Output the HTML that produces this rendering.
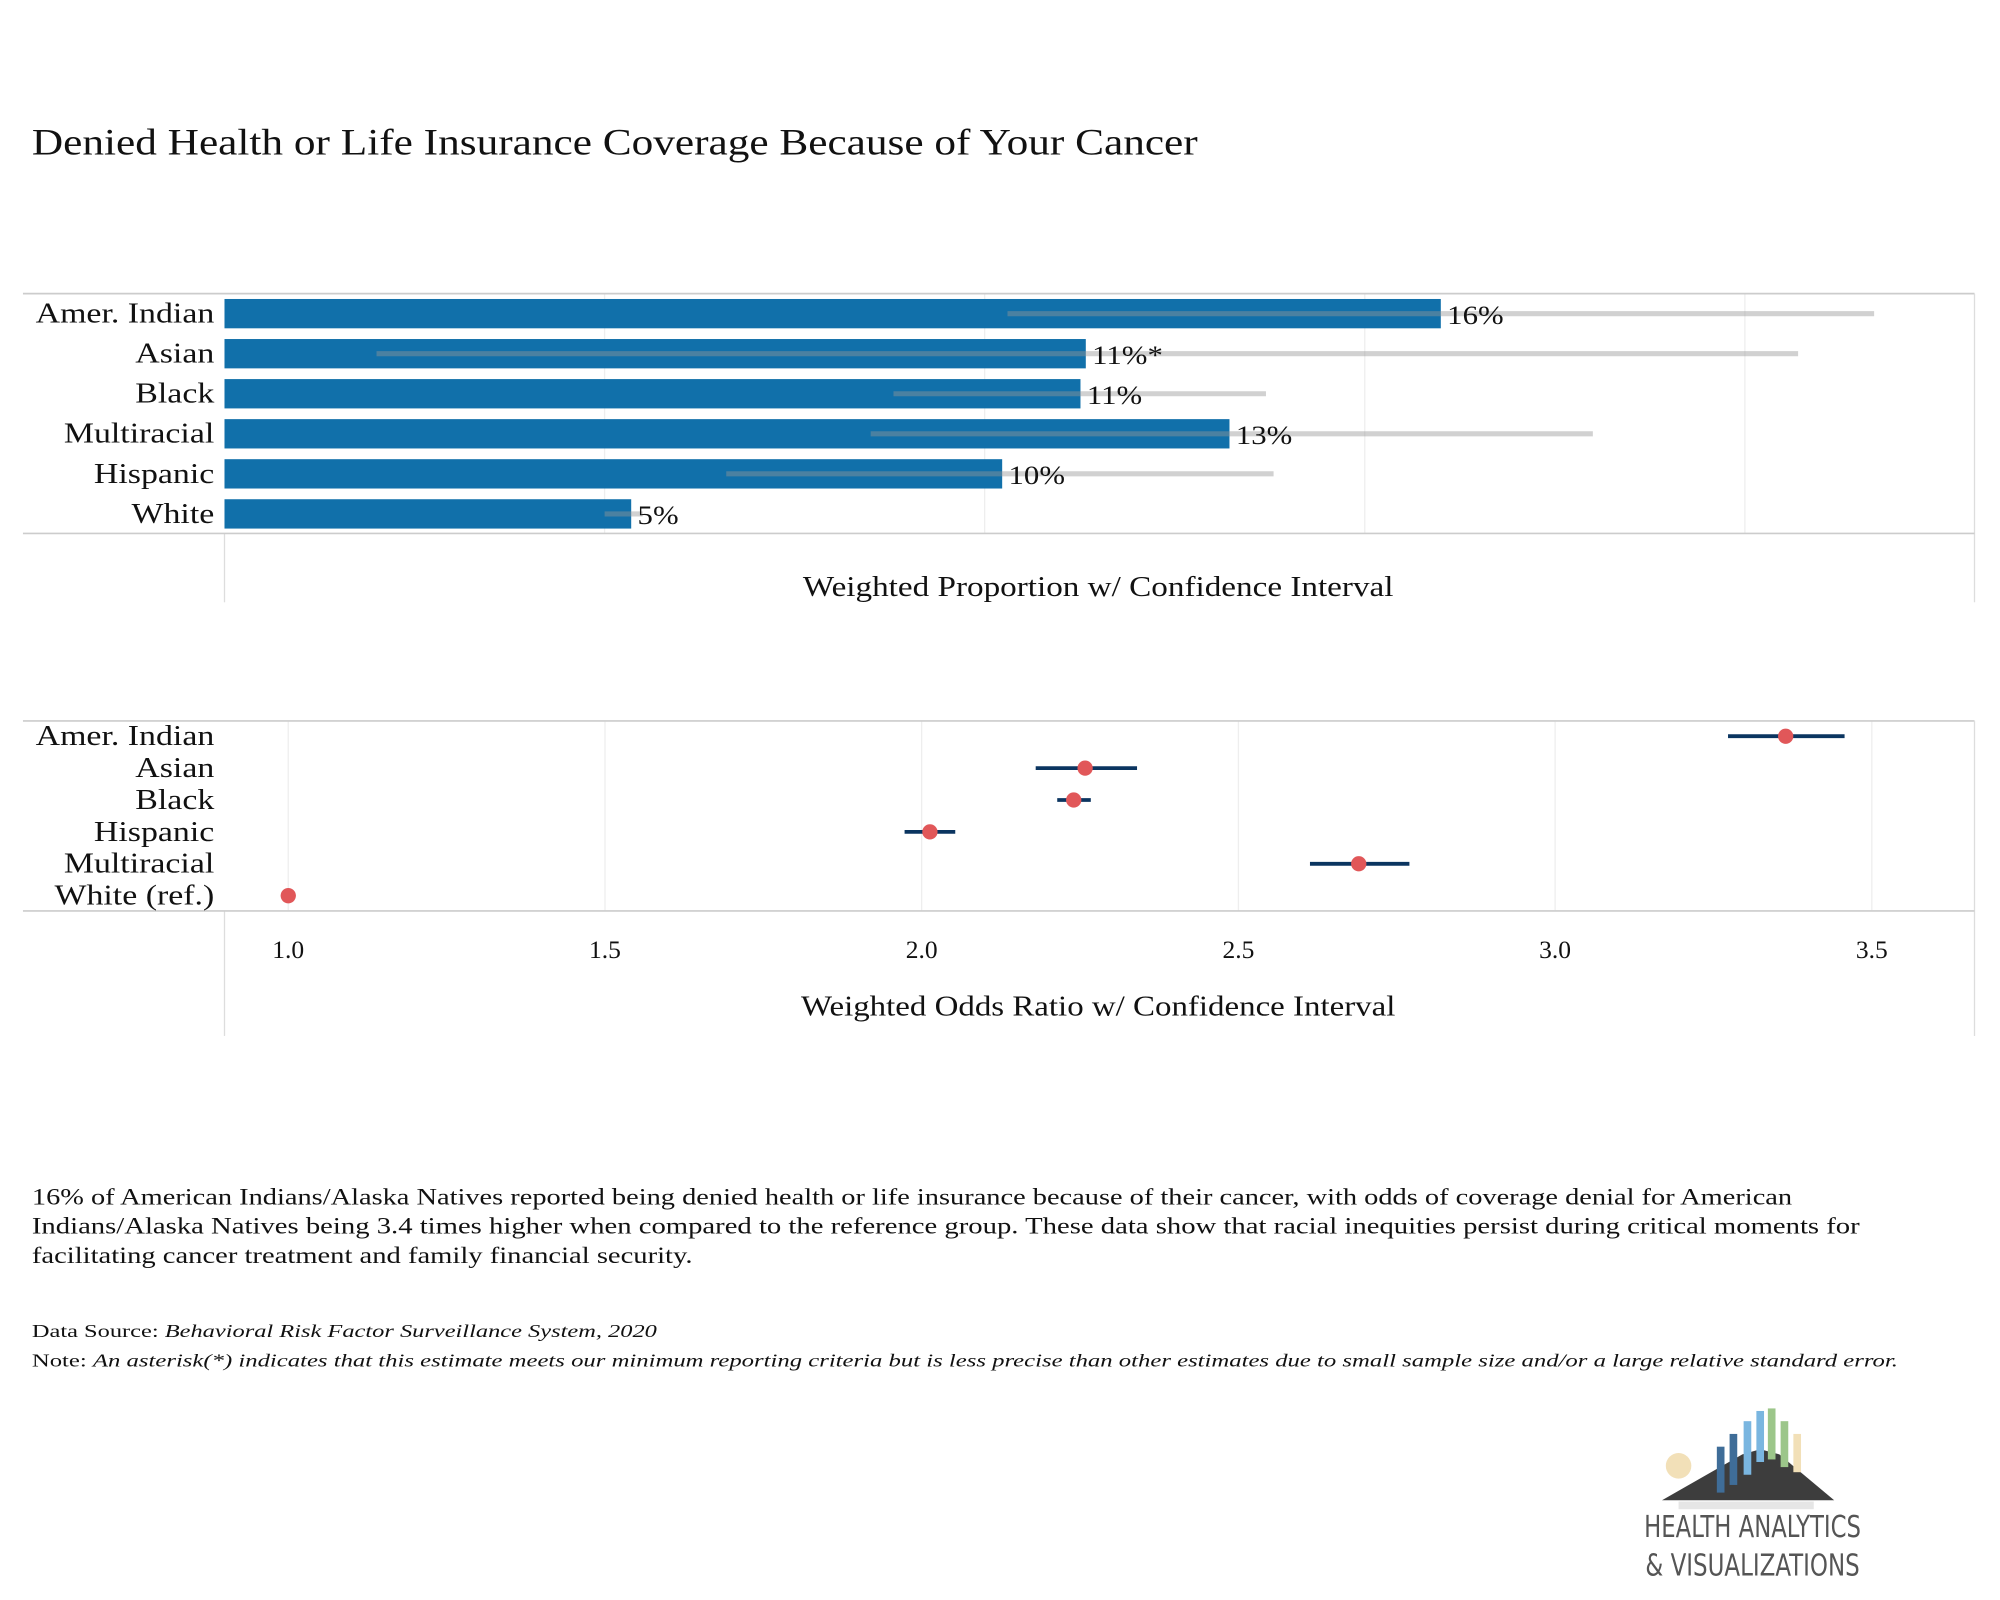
<!DOCTYPE html>
<html><head><meta charset="utf-8"><style>
html,body{margin:0;padding:0;background:#fff;}
svg{display:block;}
text{font-family:"Liberation Serif",serif;fill:#111;}
</style></head><body>
<svg id="chart" width="2000" height="1600" viewBox="0 0 1568 1254" xmlns="http://www.w3.org/2000/svg">
<text x="25" y="121" font-size="29" textLength="914" lengthAdjust="spacingAndGlyphs">Denied Health or Life Insurance Coverage Because of Your Cancer</text>
<g id="topChart"></g>
<g id="bottomChart"></g>
<g font-size="18">
<text x="25" y="944" textLength="1380" lengthAdjust="spacingAndGlyphs">16% of American Indians/Alaska Natives reported being denied health or life insurance because of their cancer, with odds of coverage denial for American</text>
<text x="25" y="967" textLength="1433" lengthAdjust="spacingAndGlyphs">Indians/Alaska Natives being 3.4 times higher when compared to the reference group. These data show that racial inequities persist during critical moments for</text>
<text x="25" y="990" textLength="518" lengthAdjust="spacingAndGlyphs">facilitating cancer treatment and family financial security.</text>
</g>
<text x="25" y="1048" font-size="14" textLength="490" lengthAdjust="spacingAndGlyphs">Data Source: <tspan font-style="italic">Behavioral Risk Factor Surveillance System, 2020</tspan></text>
<text x="25" y="1071" font-size="14" textLength="1463" lengthAdjust="spacingAndGlyphs">Note: <tspan font-style="italic">An asterisk(*) indicates that this estimate meets our minimum reporting criteria but is less precise than other estimates due to small sample size and/or a large relative standard error.</tspan></text>
<g>
<circle cx="1316" cy="1149" r="10" fill="#f2e0b8"/>
<polygon points="1303,1176 1366,1140 1380,1136 1395,1140 1438,1176" fill="#3d3d3d"/>
<rect x="1346" y="1134" width="6" height="36" fill="#3f6d98"/>
<rect x="1356" y="1124" width="6" height="40" fill="#3f6d98"/>
<rect x="1367" y="1114" width="6" height="42" fill="#7ab6e0"/>
<rect x="1377" y="1106" width="6" height="40" fill="#7ab6e0"/>
<rect x="1386" y="1104" width="6" height="40" fill="#9cc68a"/>
<rect x="1396" y="1114" width="6" height="36" fill="#9cc68a"/>
<rect x="1406" y="1124" width="6" height="30" fill="#f2e0b8"/>
<rect x="1316" y="1177" width="106" height="6" fill="#e6e6e6"/>
<text x="1374" y="1205" font-size="24" text-anchor="middle" style="font-family:'Liberation Sans Narrow','DejaVu Sans Condensed',sans-serif;fill:#555" textLength="170" lengthAdjust="spacingAndGlyphs">HEALTH ANALYTICS</text>
<text x="1374" y="1235" font-size="24" text-anchor="middle" style="font-family:'Liberation Sans Narrow','DejaVu Sans Condensed',sans-serif;fill:#555" textLength="168" lengthAdjust="spacingAndGlyphs">&amp; VISUALIZATIONS</text>
</g>
</svg>
<script>
const propCats = ["Amer. Indian","Asian","Black","Multiracial","Hispanic","White"];
const propVals = [16.0,11.33,11.26,13.22,10.23,5.35];
const propLo = [10.3,2.0,8.8,8.5,6.6,5.0];
const propHi = [21.7,20.7,13.7,18.0,13.8,5.5];
const propLabels = ["16%","11%*","11%","13%","10%","5%"];
const propGrid = [5,10,15,20];
const orCats = ["Amer. Indian","Asian","Black","Hispanic","Multiracial","White (ref.)"];
const orVals = [3.364,2.258,2.24,2.013,2.69,1.0];
const orLo = [3.273,2.18,2.214,1.973,2.613,1.0];
const orHi = [3.457,2.34,2.267,2.053,2.77,1.0];
const orTicks = [1.0,1.5,2.0,2.5,3.0,3.5];

const NS="http://www.w3.org/2000/svg";
function mk(parent,tag,attrs,txt){const e=document.createElementNS(NS,tag);for(const k in attrs)e.setAttribute(k,attrs[k]);if(txt!==undefined)e.textContent=txt;parent.appendChild(e);return e;}
function widen(t,f){const w=t.getComputedTextLength();t.setAttribute('textLength',w*f);t.setAttribute('lengthAdjust','spacingAndGlyphs');}
const L=176,R=1548;
const gTop=document.getElementById('topChart');
const xP=v=>L+v*59.6;
const y0=230,band=31.4;
propGrid.forEach(g=>{const l=mk(gTop,'line',{x1:xP(g),x2:xP(g),y1:y0,y2:418,stroke:'#eeeeee','stroke-width':1});

});
let b=mk(gTop,'line',{x1:18,x2:R,y1:y0,y2:y0,stroke:'#cccccc','stroke-width':1.3});


mk(gTop,'line',{x1:R,x2:R,y1:y0,y2:472,stroke:'#dddddd','stroke-width':1});
mk(gTop,'line',{x1:L,x2:L,y1:418,y2:472,stroke:'#dddddd','stroke-width':1});
propCats.forEach((c,i)=>{
 const cy=y0+band*(i+0.5);
 const t=mk(gTop,'text',{x:168,y:cy+7,'font-size':22.5,'text-anchor':'end'},c);
 
 
 widen(t,1.18);
 const r=mk(gTop,'rect',{x:L,y:cy-11.5,width:xP(propVals[i])-L,height:23,fill:'#1170aa'});
 
 
 const ci=mk(gTop,'line',{x1:xP(propLo[i]),x2:xP(propHi[i]),y1:cy,y2:cy,stroke:'rgba(150,150,150,0.44)','stroke-width':4});
 
 
 const v=mk(gTop,'text',{x:xP(propVals[i])+5,y:cy+8,'font-size':21},propLabels[i]);
 
 
 widen(v,1.15);
});
mk(gTop,'line',{x1:18,x2:R,y1:418,y2:418,stroke:'#cccccc','stroke-width':1.3});
let at=mk(gTop,'text',{x:861,y:467,'font-size':22,'text-anchor':'middle',textLength:463,lengthAdjust:'spacingAndGlyphs'},'Weighted Proportion w/ Confidence Interval');


const gBot=document.getElementById('bottomChart');
const xO=v=>226+(v-1)*496.6;
const y1=565,band2=25;
orTicks.forEach(t=>{const l=mk(gBot,'line',{x1:xO(t),x2:xO(t),y1:y1,y2:714,stroke:'#eeeeee','stroke-width':1});


const tl=mk(gBot,'text',{x:xO(t),y:751,'font-size':20,'text-anchor':'middle'},t.toFixed(1));

});
mk(gBot,'line',{x1:18,x2:R,y1:y1,y2:y1,stroke:'#cccccc','stroke-width':1.3});
mk(gBot,'line',{x1:R,x2:R,y1:y1,y2:812,stroke:'#dddddd','stroke-width':1});
mk(gBot,'line',{x1:L,x2:L,y1:714,y2:812,stroke:'#dddddd','stroke-width':1});
mk(gBot,'line',{x1:18,x2:R,y1:714,y2:714,stroke:'#cccccc','stroke-width':1.3});
orCats.forEach((c,i)=>{
 const cy=577+band2*i;
 const t=mk(gBot,'text',{x:168,y:cy+7,'font-size':22.5,'text-anchor':'end'},c);
 
 
 widen(t,1.18);
 if(orHi[i]>orLo[i]){const ci=mk(gBot,'line',{x1:xO(orLo[i]),x2:xO(orHi[i]),y1:cy,y2:cy,stroke:'#0b3560','stroke-width':3});
 
 }
 const d=mk(gBot,'circle',{cx:xO(orVals[i]),cy:cy,r:6,fill:'#e15759'});
 
 
});
at=mk(gBot,'text',{x:861,y:796,'font-size':22,'text-anchor':'middle',textLength:466,lengthAdjust:'spacingAndGlyphs'},'Weighted Odds Ratio w/ Confidence Interval');


</script>
</body></html>
